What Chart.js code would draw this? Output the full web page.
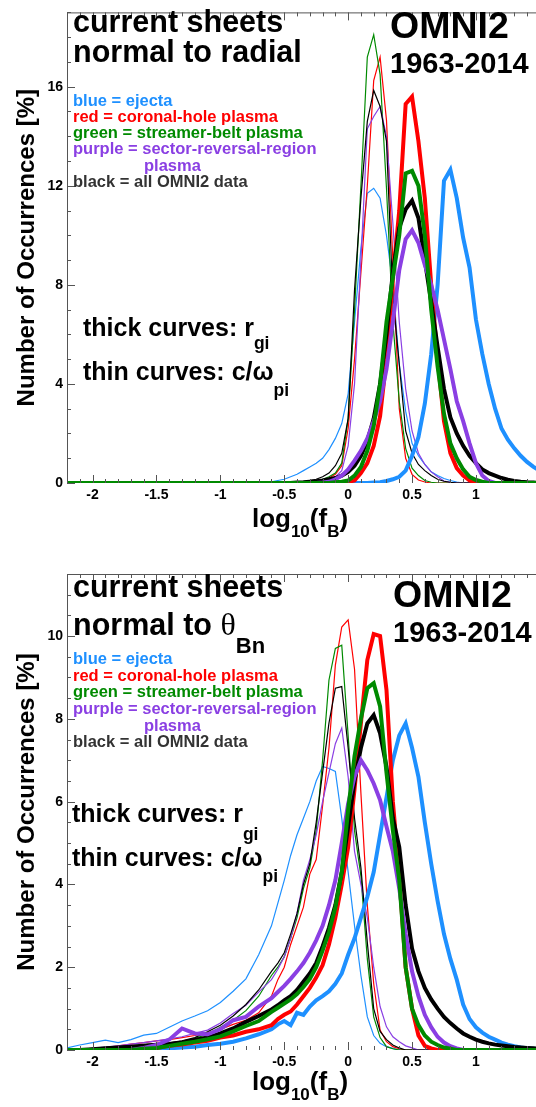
<!DOCTYPE html>
<html>
<head>
<meta charset="utf-8">
<script src="https://cdn.jsdelivr.net/npm/chart.js@4.4.0/dist/chart.umd.min.js"></script>
<style>
  html, body { margin: 0; padding: 0; background: #fff; }
  body { width: 536px; height: 1107px; overflow: hidden; position: relative; }
  .panel { position: absolute; left: 0; width: 536px; }
  #top { top: 0; height: 540px; }
  #bottom { top: 540px; height: 567px; }
</style>
</head>
<body>
<div class="panel" id="top"><canvas id="topChart" width="536" height="540"></canvas></div>
<div class="panel" id="bottom"><canvas id="bottomChart" width="536" height="567"></canvas></div>
<script>
// ---- data ----

// top panel: current sheets normal to radial
const topBins = [-2.2,
  -0.7, -0.65, -0.6, -0.55, -0.5, -0.45, -0.4, -0.35, -0.3, -0.25,
  -0.2, -0.15, -0.1, -0.05, 0, 0.05, 0.1, 0.15, 0.2, 0.25,
  0.3, 0.35, 0.4, 0.45, 0.5, 0.55, 0.6, 0.65, 0.7, 0.75,
  0.8, 0.85, 0.9, 0.95, 1.0, 1.05, 1.1, 1.15, 1.2, 1.25,
  1.3, 1.35, 1.4, 1.45, 1.5];

// thin curves (c/omega_pi)
const topThinBlue = [0,
  0, 0.02, 0.05, 0.1, 0.15, 0.25, 0.35, 0.5, 0.65, 0.8,
  1.0, 1.35, 1.8, 2.4, 3.6, 6.5, 9.5, 11.7, 11.9, 11.5,
  10.0, 8.0, 4.8, 2.9, 1.6, 1.1, 0.75, 0.45, 0.3, 0.18,
  0.1, 0.04, 0, 0, 0, 0, 0, 0, 0, 0,
  0, 0, 0, 0, 0];
const topThinRed = [0,
  0, 0, 0, 0, 0, 0, 0, 0, 0.03, 0.05,
  0.1, 0.2, 0.35, 0.7, 2.2, 5.0, 8.5, 12.0, 16.25, 17.2,
  14.65, 9.0, 3.0, 1.0, 0.35, 0.12, 0.04, 0, 0, 0,
  0, 0, 0, 0, 0, 0, 0, 0, 0, 0,
  0, 0, 0, 0, 0];
const topThinGreen = [0,
  0, 0, 0, 0, 0, 0, 0, 0, 0.03, 0.08,
  0.15, 0.25, 0.4, 0.8, 2.6, 7.0, 12.0, 17.2, 18.1, 16.5,
  11.9, 6.5, 3.3, 1.4, 0.6, 0.3, 0.1, 0.03, 0, 0,
  0, 0, 0, 0, 0, 0, 0, 0, 0, 0,
  0, 0, 0, 0, 0];
const topThinBlack = [0,
  0, 0, 0, 0, 0, 0, 0.03, 0.05, 0.1, 0.15,
  0.25, 0.4, 0.7, 1.2, 2.6, 7.8, 11.5, 14.6, 15.85, 15.2,
  13.8, 7.5, 4.8, 2.1, 1.2, 0.75, 0.5, 0.3, 0.15, 0.07,
  0.03, 0, 0, 0, 0, 0, 0, 0, 0, 0,
  0, 0, 0, 0, 0];
const topThinPurple = [0,
  0, 0, 0, 0, 0, 0, 0, 0, 0, 0,
  0.05, 0.1, 0.25, 0.5, 1.5, 4.0, 9.0, 14.3, 14.8, 15.2,
  14.0, 10.5, 6.5, 3.8, 2.1, 1.2, 0.75, 0.45, 0.25, 0.08,
  0.03, 0, 0, 0, 0, 0, 0, 0, 0, 0,
  0, 0, 0, 0, 0];

// thick curves (r_gi)
const topThickBlue = [0,
  0, 0, 0, 0, 0, 0, 0, 0, 0, 0,
  0, 0, 0, 0, 0, 0, 0, 0, 0.02, 0.03,
  0.08, 0.15, 0.25, 0.5, 1.1, 1.85, 3.2, 5.2, 8.0, 12.2,
  12.65, 11.5, 9.9, 8.7, 6.6, 5.2, 4.0, 3.0, 2.2, 1.75,
  1.4, 1.1, 0.85, 0.65, 0.5];
const topThickRed = [0,
  0, 0, 0, 0, 0, 0, 0, 0, 0, 0,
  0, 0, 0, 0, 0.05, 0.1, 0.4, 0.8, 1.5, 2.7,
  5.0, 8.3, 11.0, 15.3, 15.6, 13.8, 11.5, 8.0, 5.0, 2.5,
  1.2, 0.6, 0.3, 0.1, 0.03, 0, 0, 0, 0, 0,
  0, 0, 0, 0, 0];
const topThickGreen = [0,
  0, 0, 0, 0, 0, 0, 0, 0, 0, 0,
  0, 0, 0.03, 0.05, 0.1, 0.3, 0.65, 1.3, 2.3, 4.0,
  6.5, 8.3, 10.0, 12.5, 12.6, 12.0, 10.0, 7.0, 4.7, 2.8,
  1.6, 1.0, 0.55, 0.25, 0.12, 0.05, 0, 0, 0, 0,
  0, 0, 0, 0, 0];
const topThickBlack = [0,
  0, 0, 0, 0, 0, 0, 0.02, 0.03, 0.05, 0.07,
  0.1, 0.15, 0.2, 0.3, 0.45, 0.7, 1.1, 1.7, 2.6, 4.0,
  6.0, 8.5, 10.3, 11.05, 11.4, 10.7, 9.0, 7.3, 5.5, 3.8,
  2.65, 2.0, 1.5, 1.1, 0.8, 0.55, 0.4, 0.3, 0.2, 0.13,
  0.08, 0.05, 0.03, 0.02, 0];
const topThickPurple = [0,
  0, 0, 0, 0, 0, 0, 0, 0, 0, 0,
  0.02, 0.05, 0.15, 0.3, 0.55, 0.9, 1.3, 1.8, 2.5, 3.3,
  4.6, 6.5, 8.6, 9.85, 10.2, 9.7, 8.8, 8.0, 7.0, 5.8,
  4.6, 3.3, 2.5, 1.6, 0.8, 0.3, 0.08, 0, 0, 0,
  0, 0, 0, 0, 0];

// bottom panel: current sheets normal to theta_Bn
const botBins = [
  -2.2, -2.1, -2.0, -1.9, -1.8, -1.7, -1.6, -1.5, -1.4, -1.3,
  -1.2, -1.1, -1.0, -0.9, -0.8, -0.7, -0.6, -0.55, -0.5, -0.45,
  -0.4, -0.35, -0.3, -0.25, -0.2, -0.15, -0.1, -0.05, 0, 0.05,
  0.1, 0.15, 0.2, 0.25, 0.3, 0.35, 0.4, 0.45, 0.5, 0.55,
  0.6, 0.65, 0.7, 0.75, 0.8, 0.85, 0.9, 0.95, 1.0, 1.05,
  1.1, 1.15, 1.2, 1.25, 1.3, 1.35, 1.4, 1.45, 1.5];

const botThinBlue = [
  0.05, 0.12, 0.18, 0.24, 0.18, 0.25, 0.36, 0.4, 0.55, 0.7,
  0.82, 0.95, 1.15, 1.42, 1.72, 2.3, 3.0, 3.55, 4.1, 4.7,
  5.2, 5.6, 6.0, 6.5, 6.85, 6.8, 6.73, 5.6, 4.3, 3.0,
  1.8, 0.8, 0.35, 0.16, 0.08, 0.04, 0, 0, 0, 0,
  0, 0, 0, 0, 0, 0, 0, 0, 0, 0,
  0, 0, 0, 0, 0, 0, 0, 0, 0];
const botThinRed = [
  0, 0, 0.03, 0.06, 0.1, 0.14, 0.18, 0.22, 0.25, 0.3,
  0.35, 0.42, 0.5, 0.62, 0.72, 0.9, 1.3, 1.7, 2.0, 2.55,
  3.0, 3.45, 4.25, 4.6, 5.9, 7.3, 9.3, 10.22, 10.39, 9.2,
  6.2, 3.5, 1.6, 0.48, 0.2, 0.08, 0.03, 0, 0, 0,
  0, 0, 0, 0, 0, 0, 0, 0, 0, 0,
  0, 0, 0, 0, 0, 0, 0, 0, 0];
const botThinGreen = [
  0, 0, 0.02, 0.04, 0.06, 0.08, 0.1, 0.12, 0.14, 0.2,
  0.28, 0.38, 0.55, 0.72, 0.95, 1.3, 1.8, 2.0, 2.25, 2.7,
  3.2, 3.9, 4.4, 5.3, 7.0, 8.94, 9.7, 9.78, 7.6, 5.3,
  4.2, 2.2, 0.8, 0.3, 0.08, 0.03, 0, 0, 0, 0,
  0, 0, 0, 0, 0, 0, 0, 0, 0, 0,
  0, 0, 0, 0, 0, 0, 0, 0, 0];
const botThinBlack = [
  0, 0.02, 0.04, 0.06, 0.08, 0.1, 0.13, 0.16, 0.18, 0.22,
  0.3, 0.44, 0.6, 0.82, 1.1, 1.45, 1.9, 2.1, 2.35, 2.8,
  3.3, 4.0, 4.5, 5.5, 6.7, 7.9, 8.74, 8.78, 7.3, 5.6,
  4.4, 2.6, 1.0, 0.45, 0.25, 0.12, 0.05, 0, 0, 0,
  0, 0, 0, 0, 0, 0, 0, 0, 0, 0,
  0, 0, 0, 0, 0, 0, 0, 0, 0];
const botThinPurple = [
  0, 0.02, 0.04, 0.07, 0.1, 0.14, 0.18, 0.22, 0.27, 0.32,
  0.4, 0.48, 0.65, 0.88, 1.08, 1.4, 1.7, 1.95, 2.25, 2.7,
  3.3, 4.1, 4.6, 5.2, 6.0, 6.7, 7.4, 7.78, 6.6, 4.8,
  4.0, 3.2, 2.0, 1.05, 0.56, 0.32, 0.2, 0.1, 0.05, 0,
  0, 0, 0, 0, 0, 0, 0, 0, 0, 0,
  0, 0, 0, 0, 0, 0, 0, 0, 0];

const botThickBlue = [
  0, 0, 0, 0, 0, 0, 0, 0.02, 0.04, 0.06,
  0.08, 0.12, 0.15, 0.2, 0.28, 0.38, 0.5, 0.62, 0.7, 0.6,
  0.9, 0.85, 1.05, 1.2, 1.3, 1.42, 1.6, 1.85, 2.3, 2.7,
  3.2, 3.7, 4.3, 5.2, 6.1, 7.0, 7.6, 7.89, 7.3, 6.6,
  5.5, 4.5, 3.6, 2.8, 2.2, 1.7, 1.1, 0.75, 0.55, 0.42,
  0.32, 0.25, 0.18, 0.13, 0.09, 0.06, 0.04, 0.03, 0.02];
const botThickRed = [
  0, 0, 0, 0, 0, 0, 0, 0.05, 0.1, 0.13,
  0.18, 0.22, 0.3, 0.35, 0.44, 0.5, 0.6, 0.75, 0.85, 0.93,
  1.1, 1.3, 1.5, 1.75, 2.05, 2.55, 3.2, 4.0, 4.9, 6.3,
  7.9, 9.42, 10.05, 10.0, 8.7, 6.0, 4.2, 2.0, 1.0, 0.35,
  0.1, 0.04, 0, 0, 0, 0, 0, 0, 0, 0,
  0, 0, 0, 0, 0, 0, 0, 0, 0];
const botThickGreen = [
  0, 0, 0, 0, 0, 0, 0.03, 0.05, 0.1, 0.15,
  0.2, 0.26, 0.33, 0.45, 0.58, 0.7, 0.92, 1.02, 1.12, 1.22,
  1.35, 1.52, 1.72, 2.0, 2.4, 2.85, 3.45, 4.3, 5.8, 7.1,
  8.0, 8.74, 8.86, 8.3, 6.7, 5.3, 4.1, 2.0, 1.0, 0.6,
  0.35, 0.2, 0.12, 0.06, 0.03, 0, 0, 0, 0, 0,
  0, 0, 0, 0, 0, 0, 0, 0, 0];
const botThickBlack = [
  0, 0, 0.02, 0.04, 0.06, 0.08, 0.1, 0.12, 0.14, 0.18,
  0.24, 0.3, 0.4, 0.52, 0.68, 0.82, 0.98, 1.08, 1.2, 1.3,
  1.45, 1.65, 1.85, 2.1, 2.5, 2.95, 3.5, 4.3, 5.4, 6.5,
  7.3, 7.89, 8.09, 7.65, 6.84, 5.6, 4.9, 3.5, 2.45, 1.9,
  1.5, 1.22, 1.0, 0.8, 0.65, 0.52, 0.4, 0.32, 0.25, 0.2,
  0.16, 0.13, 0.11, 0.09, 0.07, 0.06, 0.05, 0.04, 0.03];
const botThickPurple = [
  0, 0, 0, 0, 0, 0, 0.05, 0.12, 0.25, 0.52,
  0.4, 0.38, 0.5, 0.72, 0.8, 1.05, 1.25, 1.4, 1.55, 1.72,
  1.9, 2.1, 2.35, 2.65, 3.0, 3.5, 4.1, 5.0, 5.95, 6.6,
  7.0, 6.76, 6.44, 6.04, 5.4, 4.8, 3.9, 2.8, 1.9, 1.3,
  0.85, 0.55, 0.32, 0.18, 0.09, 0.04, 0, 0, 0, 0,
  0, 0, 0, 0, 0, 0, 0, 0, 0];

// axes
const xTicks = [-2, -1.5, -1, -0.5, 0, 0.5, 1];
const topYTicks = [0, 4, 8, 12, 16];
const botYTicks = [0, 2, 4, 6, 8, 10];

// legend text lines
const legendLines = [
  ['blue = ejecta', 'blue'],
  ['red = coronal-hole plasma', 'red'],
  ['green = streamer-belt plasma', 'green'],
  ['purple = sector-reversal-region', 'purple'],
  ['plasma', 'purple'],
  ['black = all OMNI2 data', 'gray']
];

// ---- styles ----
const colors = { blue: '#1e90ff', red: '#ff0000', green: '#008a00', purple: '#8a3fe3', black: '#000000', gray: '#333333' };
const FONT = "'Liberation Sans', Arial, Helvetica, sans-serif";

function series(bins, vals, color, width) {
  return {
    data: bins.map((x, i) => ({ x: x, y: vals[i] })),
    borderColor: color,
    borderWidth: width,
    pointRadius: 0,
    fill: false,
    tension: 0
  };
}

// text with a lowered (subscript) part; parts = [[text, size, drop, family, weight]]
function drawParts(ctx, parts, x, y, align) {
  let w = 0;
  parts.forEach(p => {
    ctx.font = (p[4] || 'bold') + ' ' + p[1] + 'px ' + (p[3] || FONT);
    w += ctx.measureText(p[0]).width;
  });
  let cx = align === 'center' ? x - w / 2 : x;
  ctx.textAlign = 'left';
  ctx.textBaseline = 'alphabetic';
  parts.forEach(p => {
    ctx.font = (p[4] || 'bold') + ' ' + p[1] + 'px ' + (p[3] || FONT);
    ctx.fillText(p[0], cx, y + (p[2] || 0));
    cx += ctx.measureText(p[0]).width;
  });
}

// frame + inward ticks, drawn from the chart's own scales
const framePlugin = {
  id: 'frame',
  afterDatasetsDraw(chart, args, opts) {
    const ctx = chart.ctx;
    const a = chart.chartArea;
    const xs = chart.scales.x, ys = chart.scales.y;
    ctx.save();
    ctx.strokeStyle = '#555';
    ctx.lineWidth = 1;
    ctx.beginPath();
    ctx.moveTo(a.left + 0.5, a.bottom);
    ctx.lineTo(a.left + 0.5, a.top + 0.5);
    ctx.lineTo(a.right, a.top + 0.5);
    ctx.stroke();

    ctx.beginPath();
    for (let k = -22; k <= 14; k++) {
      const v = k / 10;
      const px = Math.round(xs.getPixelForValue(v)) + 0.5;
      const len = (k % 5 === 0) ? 8 : 4;
      ctx.moveTo(px, a.bottom); ctx.lineTo(px, a.bottom - len);
      ctx.moveTo(px, a.top); ctx.lineTo(px, a.top + len);
    }
    for (let v = 0; v <= ys.max + 1e-9; v += opts.minor) {
      const py = Math.round(ys.getPixelForValue(v)) + 0.5;
      const major = Math.abs(v / opts.major - Math.round(v / opts.major)) < 1e-6;
      ctx.moveTo(a.left, py); ctx.lineTo(a.left + (major ? 8 : 4), py);
    }
    ctx.stroke();
    ctx.restore();
  }
};

function axisTitles(chart, xTitleY) {
  const ctx = chart.ctx;
  const a = chart.chartArea;
  ctx.save();
  ctx.fillStyle = '#000';
  // y title
  ctx.translate(27, (a.top + a.bottom) / 2);
  ctx.rotate(-Math.PI / 2);
  ctx.font = 'bold 24px ' + FONT;
  ctx.textAlign = 'center';
  ctx.textBaseline = 'middle';
  ctx.fillText('Number of Occurrences [%]', 0, 0);
  ctx.restore();
  ctx.save();
  ctx.fillStyle = '#000';
  drawParts(ctx, [['log', 26], ['10', 17, 10], ['(f', 26], ['B', 17, 10], [')', 26]], 300, xTitleY, 'center');
  ctx.restore();
}

function drawLegend(ctx, baselines) {
  ctx.save();
  ctx.font = 'bold 16.5px ' + FONT;
  ctx.textAlign = 'left';
  ctx.textBaseline = 'alphabetic';
  legendLines.forEach((l, i) => {
    ctx.fillStyle = colors[l[1]];
    ctx.fillText(l[0], l[0] === 'plasma' ? 144 : 73, baselines[i]);
  });
  ctx.restore();
}

function makeOptions(yMax, yTicks, padTop, minor, major) {
  return {
    responsive: false,
    animation: false,
    devicePixelRatio: 1,
    layout: { padding: { top: padTop, left: 0, right: 0, bottom: 0 } },
    plugins: {
      legend: { display: false },
      tooltip: { enabled: false },
      frame: { minor: minor, major: major }
    },
    scales: {
      x: {
        type: 'linear', min: -2.2, max: 1.47,
        grid: { display: false, drawTicks: false },
        border: { display: false },
        afterBuildTicks: s => { s.ticks = xTicks.map(v => ({ value: v })); },
        afterFit: s => { s.height = 57; },
        ticks: { color: '#000', padding: 4, font: { family: FONT, size: 14, weight: 'bold' }, callback: v => String(v), maxRotation: 0 }
      },
      y: {
        type: 'linear', min: 0, max: yMax,
        grid: { display: false, drawTicks: false },
        border: { display: false },
        afterBuildTicks: s => { s.ticks = yTicks.map(v => ({ value: v })); },
        afterFit: s => { s.width = 67; },
        ticks: { color: '#000', padding: 4, font: { family: FONT, size: 14, weight: 'bold' }, callback: v => String(v) }
      }
    }
  };
}

// ---- top chart ----
new Chart(document.getElementById('topChart').getContext('2d'), {
  type: 'line',
  data: {
    datasets: [
      series(topBins, topThickGreen, colors.green, 4),
      series(topBins, topThickPurple, colors.purple, 4),
      series(topBins, topThickBlack, colors.black, 4),
      series(topBins, topThickRed, colors.red, 4),
      series(topBins, topThickBlue, colors.blue, 4),
      series(topBins, topThinBlack, colors.black, 1.2),
      series(topBins, topThinPurple, colors.purple, 1.2),
      series(topBins, topThinGreen, colors.green, 1.2),
      series(topBins, topThinRed, colors.red, 1.2),
      series(topBins, topThinBlue, colors.blue, 1.2)
    ]
  },
  options: makeOptions(19, topYTicks, 7, 1, 4),
  plugins: [framePlugin, {
    id: 'topText',
    afterDraw(chart) {
      const ctx = chart.ctx;
      ctx.save();
      ctx.fillStyle = '#000';
      drawParts(ctx, [['current sheets', 30.5]], 73, 32);
      drawParts(ctx, [['normal to radial', 30.5]], 73, 62);
      drawParts(ctx, [['OMNI2', 37.5]], 390, 38);
      drawParts(ctx, [['1963-2014', 29]], 390, 73);
      drawParts(ctx, [['thick curves: r', 25], ['gi', 17.5, 13]], 83, 336);
      drawParts(ctx, [['thin curves: c/\u03c9', 25], ['pi', 17.5, 16]], 83, 380);
      ctx.restore();
      drawLegend(ctx, [106, 122, 138, 154, 171, 187]);
      axisTitles(chart, 527);
    }
  }]
});

// ---- bottom chart ----
new Chart(document.getElementById('bottomChart').getContext('2d'), {
  type: 'line',
  data: {
    datasets: [
      series(botBins, botThickGreen, colors.green, 4),
      series(botBins, botThickPurple, colors.purple, 4),
      series(botBins, botThickBlack, colors.black, 4),
      series(botBins, botThickRed, colors.red, 4),
      series(botBins, botThickBlue, colors.blue, 4),
      series(botBins, botThinBlack, colors.black, 1.2),
      series(botBins, botThinPurple, colors.purple, 1.2),
      series(botBins, botThinGreen, colors.green, 1.2),
      series(botBins, botThinRed, colors.red, 1.2),
      series(botBins, botThinBlue, colors.blue, 1.2)
    ]
  },
  options: makeOptions(11.5, botYTicks, 34, 0.5, 2),
  plugins: [framePlugin, {
    id: 'botText',
    afterDraw(chart) {
      const ctx = chart.ctx;
      ctx.save();
      ctx.fillStyle = '#000';
      drawParts(ctx, [['current sheets', 30.5]], 73, 57);
      drawParts(ctx, [['normal to ', 30.5], ['\u03b8', 32, 0, "'Liberation Serif', 'DejaVu Serif', serif", 'normal'], ['Bn', 22, 18]], 73, 95);
      drawParts(ctx, [['OMNI2', 37.5]], 393, 67);
      drawParts(ctx, [['1963-2014', 29]], 393, 102);
      drawParts(ctx, [['thick curves: r', 25], ['gi', 17.5, 18]], 72, 282);
      drawParts(ctx, [['thin curves: c/\u03c9', 25], ['pi', 17.5, 16]], 72, 326);
      ctx.restore();
      drawLegend(ctx, [124, 141, 157, 174, 191, 207]);
      axisTitles(chart, 550);
    }
  }]
});
</script>
</body>
</html>
